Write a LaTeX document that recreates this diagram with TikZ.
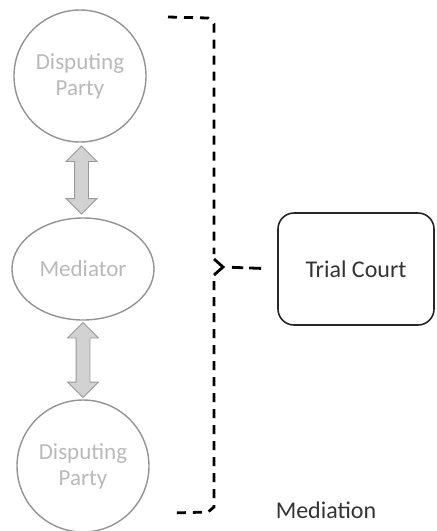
\documentclass[tikz,border=0pt]{standalone}
\usepackage{fontspec}
\setmainfont{Carlito}
\usetikzlibrary{shapes.geometric,shapes.arrows,calc}

\begin{document}
\begin{tikzpicture}[
        x=0.5pt, y=-0.5pt,
        party/.style={
            draw=gray!85,
            line width=0.7pt,
            ellipse,
            inner sep=0pt,
            align=center,
            text=gray!55,
            font=\fontsize{11.5}{13}\selectfont
        },
        updown/.style={
            double arrow,
            draw=gray!80,
            fill=gray!35,
            inner sep=0pt,
            inner ysep=3.25pt,
            double arrow head extend=4.25pt,
            double arrow tip angle=90,
            rotate=90
        },
        bracket/.style={
            line width=1.4pt,
            dash pattern=on 4.5pt off 3.5pt
        }
    ]
        \useasboundingbox (0,0) rectangle (437,531);

        % Parties and mediator
        \node[party, minimum size=66pt] (party1) at (80,76) {Disputing\\Party};
        \node[party, minimum width=71pt, minimum height=51pt] (mediator) at (83,269) {Mediator};
        \node[party, minimum size=66pt] (party2) at (83,466) {Disputing\\Party};

        % Two-way arrows
        \node[updown, minimum height=34pt] (arr1) at ($(party1.south)!0.5!(mediator.north)$) {};
        \node[updown, minimum height=37.5pt] (arr2) at ($(mediator.south)!0.5!(party2.north)$) {};

        % Court
        \node[
            draw=black!85,
            line width=0.8pt,
            rounded corners=8pt,
            minimum width=78pt,
            minimum height=56pt,
            text=black!80,
            font=\fontsize{12}{14}\selectfont
        ] (court) at (356,269) {Trial Court};

        % Bracket
        \coordinate (nose) at (223,267);
        \draw[bracket] (168,17) -- (208,18) -- (214,24) -- (214,254);
        \draw[line width=1.4pt] (214,259) -- (nose) -- (214,275);
        \draw[bracket] (214,281) -- (214,507) -- (208,512) -- (172,513);
        \draw[line width=1.4pt, dash pattern=on 6pt off 3pt,
            shorten <=8pt, shorten >=4.5pt] (court.west) -- (nose);

        \node[text=black!80, font=\fontsize{12}{14}\selectfont] (caption) at (326,510) {Mediation};
    \end{tikzpicture}
\end{document}
